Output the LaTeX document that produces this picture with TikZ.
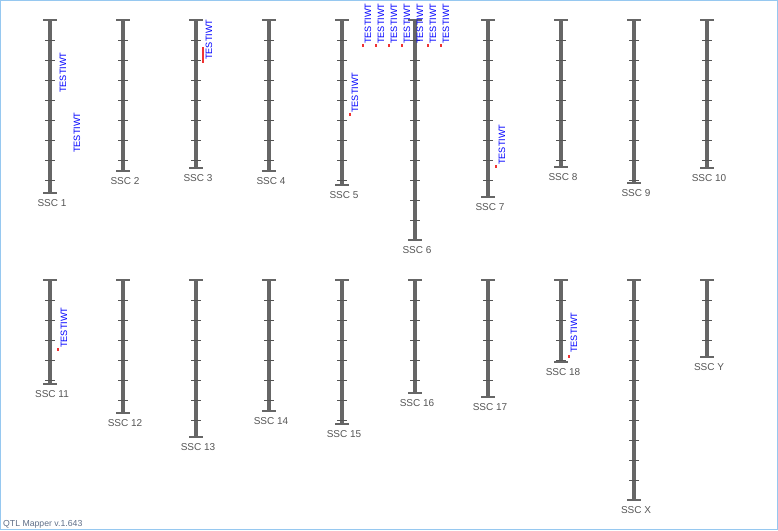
\documentclass[tikz,border=0pt]{standalone}
\usepackage{fontspec}
\setmainfont{Liberation Sans}
\definecolor{barc}{HTML}{666666}
\definecolor{labc}{HTML}{555555}
\definecolor{frame}{RGB}{150,200,240}
\definecolor{qred}{RGB}{240,50,50}
\definecolor{qblue}{RGB}{0,0,255}
\definecolor{verc}{RGB}{95,110,135}
\tikzset{
  chrbar/.style={draw=barc,line width=4.8pt},
  chrcap/.style={draw=barc,line width=1.3pt},
  chrtick/.style={draw=labc,line width=0.9pt},
  chrlabel/.style={text=labc,font=\fontsize{10}{12}\selectfont,inner sep=0pt},
  qtltext/.style={text=qblue,font=\fontsize{9.2}{10}\selectfont,rotate=90,anchor=west,inner sep=0pt},
  qtlmark/.style={fill=qred,draw=none}
}
\newcommand\chrom[6]{% name, x, top, bottom, nticks, label
  \draw[chrbar] (#2,#3) -- (#2,#4);
  \draw[chrcap] (#2-7,#3) -- (#2+7,#3);
  \draw[chrcap] (#2-7,#4) -- (#2+7,#4);
  \foreach \k in {1,...,#5} \draw[chrtick] (#2-5,{#3+20*\k}) -- (#2+5,{#3+20*\k});
  \node[chrlabel] (#1) at (#2+2,#4+10) {#6};
}
\begin{document}
\begin{tikzpicture}[x=1pt,y=-1pt]
\useasboundingbox (0,0) rectangle (778,530);
\draw[frame,line width=1pt] (0.5,0.5) rectangle (777.5,529.5);
% QTL marks (under bars)
\fill[qred] (202.2,47) rectangle (204.2,63);
\fill[qred] (348.8,112.5) rectangle (351.3,115.5);
\foreach \i in {0,...,6} \fill[qred] ({361.8+13*\i},43.5) rectangle ({364.3+13*\i},46.5);
\fill[qred] (494.8,164.5) rectangle (497.3,167.5);
\fill[qred] (56.8,347.5) rectangle (59.3,350.5);
\fill[qred] (567.8,354.5) rectangle (570.3,357.5);
% chromosomes
\chrom{c1}{50}{20}{193}{8}{SSC 1}
\chrom{c2}{123}{20}{171}{7}{SSC 2}
\chrom{c3}{196}{20}{168}{7}{SSC 3}
\chrom{c4}{269}{20}{171}{7}{SSC 4}
\chrom{c5}{342}{20}{185}{8}{SSC 5}
\chrom{c6}{415}{20}{240}{10}{SSC 6}
\chrom{c7}{488}{20}{197}{8}{SSC 7}
\chrom{c8}{561}{20}{167}{7}{SSC 8}
\chrom{c9}{634}{20}{183}{8}{SSC 9}
\chrom{c10}{707}{20}{168}{7}{SSC 10}
\chrom{c11}{50}{280}{384}{5}{SSC 11}
\chrom{c12}{123}{280}{413}{6}{SSC 12}
\chrom{c13}{196}{280}{437}{7}{SSC 13}
\chrom{c14}{269}{280}{411}{6}{SSC 14}
\chrom{c15}{342}{280}{424}{7}{SSC 15}
\chrom{c16}{415}{280}{393}{5}{SSC 16}
\chrom{c17}{488}{280}{397}{5}{SSC 17}
\chrom{c18}{561}{280}{362}{4}{SSC 18}
\chrom{cx}{634}{280}{500}{10}{SSC X}
\chrom{cy}{707}{280}{357}{3}{SSC Y}
% QTL labels
\node[qtltext] (q1) at (63,93) {TESTIWT};
\node[qtltext] (q2) at (77,153) {TESTIWT};
\node[qtltext] (q3) at (209,60) {TESTIWT};
\node[qtltext] (q4) at (355,113) {TESTIWT};
\foreach \i in {0,...,6} \node[qtltext] (t\i) at ({368+13*\i},44) {TESTIWT};
\node[qtltext] (q5) at (502,165) {TESTIWT};
\node[qtltext] (q6) at (64,348) {TESTIWT};
\node[qtltext] (q7) at (574,353) {TESTIWT};
% footer
\node[anchor=base west,inner sep=0pt,text=verc,font=\fontsize{8.7}{10}\selectfont] (ver) at (3,526) {QTL Mapper v.1.643};
\end{tikzpicture}
\end{document}
